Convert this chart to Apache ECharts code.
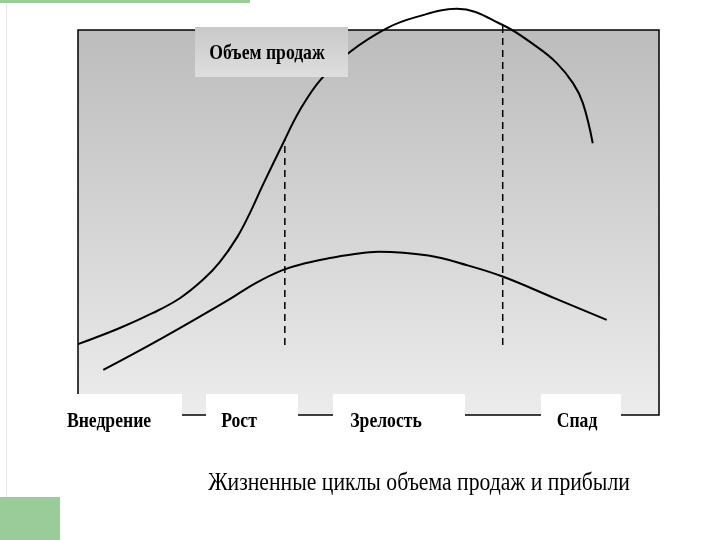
<!DOCTYPE html>
<html><head><meta charset="utf-8">
<script src="https://cdn.jsdelivr.net/npm/echarts@6/dist/echarts.min.js"></script>
<style>html,body{margin:0;padding:0;background:#fff}#c{width:720px;height:540px}</style>
</head><body><div id="c"></div>
<script>
// Sales volume curve (x: time 0..100, y: level 0..100)
var salesX = [0, 7.2, 12.9, 17.6, 21.5, 24.4, 27.4, 29.6, 31.8, 35.3, 38.2, 41.7, 46.8, 53.2, 58.3, 65.2, 73.1, 79.0, 82.4, 85.2, 86.9, 88.6];
var salesY = [18.4, 22.6, 26.5, 30.4, 35.1, 39.7, 46.2, 52.5, 59.7, 70.6, 79.2, 87.0, 94.3, 100.5, 103.4, 105.5, 101.3, 95.6, 91.4, 86.2, 81.0, 70.6];
// Profit curve
var profitX = [4.35, 14.4, 25.9, 30.5, 35.3, 39.1, 43.1, 47.1, 51.7, 60.3, 67.2, 73.2, 82.1, 91.0];
var profitY = [11.7, 19.9, 29.9, 34.2, 37.7, 39.4, 40.7, 41.7, 42.4, 41.4, 38.8, 35.9, 30.3, 24.7];
// Stage boundaries (dashed lines)
var boundaryX = [35.6, 73.1];
var boundaryBottom = [18.2, 18.2];
var boundaryTop = [71.4, 101.5];
var stageLabels = ['Внедрение', 'Рост', 'Зрелость', 'Спад'];
var titleText = 'Объем продаж';
var captionText = 'Жизненные циклы объема продаж и прибыли';

function zip(a, b) { return a.map(function (v, i) { return [v, b[i]]; }); }

var chart = echarts.init(document.getElementById('c'), null, {renderer: 'canvas'});

var series = [
  {type: 'line', data: zip(salesX, salesY), smooth: 0.4, symbol: 'none', clip: false,
   lineStyle: {color: '#000', width: 2}, z: 5},
  {type: 'line', data: zip(profitX, profitY), smooth: 0.4, symbol: 'none', clip: false,
   lineStyle: {color: '#000', width: 2}, z: 5}
];
boundaryX.forEach(function (x, i) {
  series.push({type: 'line', data: [[x, boundaryBottom[i]], [x, boundaryTop[i]]], symbol: 'none', clip: false,
    lineStyle: {color: '#000', width: 1.5, type: [7, 5]}, z: 4});
});

var boxes = [[60, 182], [206, 298], [333, 465], [541, 621]];
var labelCenters = [109, 239, 386, 577];
var graphics = [
  {type: 'rect', shape: {x: 0, y: 0, width: 250, height: 3}, style: {fill: '#9acb98'}, z: 100},
  {type: 'rect', shape: {x: 0, y: 497, width: 60, height: 43}, style: {fill: '#99cc99'}, z: 100},
  {type: 'rect', shape: {x: 6, y: 3, width: 1, height: 494}, style: {fill: '#e6e6e6'}, z: 100},
  {type: 'rect', shape: {x: 195, y: 27, width: 153, height: 50},
   style: {fill: new echarts.graphic.LinearGradient(0, 0, 0, 1, [{offset: 0, color: '#c9c9c9'}, {offset: 1, color: '#dedede'}])}, z: 100},
  {type: 'text', x: 267, y: 54, scaleX: 0.84, z: 101,
   style: {text: titleText, font: 'bold 21px "Liberation Serif"', fill: '#000', textAlign: 'center', textVerticalAlign: 'middle'}}
];
boxes.forEach(function (b, i) {
  graphics.push({type: 'rect', shape: {x: b[0], y: 394, width: b[1] - b[0], height: 40}, style: {fill: '#fff'}, z: 100});
  graphics.push({type: 'text', x: labelCenters[i], y: 422, scaleX: 0.84, z: 101,
    style: {text: stageLabels[i], font: 'bold 21px "Liberation Serif"', fill: '#000', textAlign: 'center', textVerticalAlign: 'middle'}});
});
graphics.push({type: 'text', x: 419, y: 483, scaleX: 0.867, z: 101,
  style: {text: captionText, font: '25px "Liberation Serif"', fill: '#000', textAlign: 'center', textVerticalAlign: 'middle'}});

chart.setOption({
  animation: false,
  backgroundColor: '#fff',
  grid: {left: 78, top: 30, width: 581, height: 385, show: true, borderColor: '#000', borderWidth: 1.5,
    backgroundColor: new echarts.graphic.LinearGradient(0, 0, 0, 1, [{offset: 0, color: '#bcbcbc'}, {offset: 1, color: '#ececec'}])},
  xAxis: {type: 'value', min: 0, max: 100, show: false},
  yAxis: {type: 'value', min: 0, max: 100, show: false},
  graphic: graphics,
  series: series
});
</script></body></html>
